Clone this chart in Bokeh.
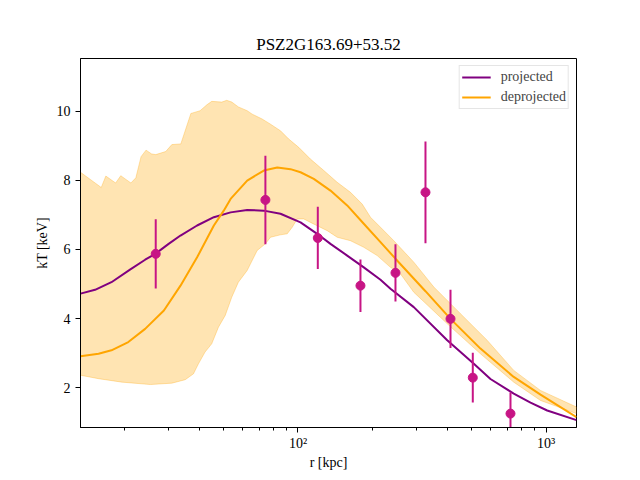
from bokeh.plotting import figure
from bokeh.models import Range1d, FixedTicker
from bokeh.embed import file_html
from bokeh.resources import INLINE

# Temperature profile of PSZ2G163.69+53.52
title = "PSZ2G163.69+53.52"

# measured (projected) spectral temperatures
obs_r = [26.7, 73.9, 120.2, 178.6, 247.2, 326.6, 412, 506.7, 719]
obs_T = [5.87, 7.43, 6.33, 4.95, 5.32, 7.65, 3.99, 2.29, 1.25]
obs_err = [1.0, 1.28, 0.9, 0.76, 0.83, 1.47, 0.84, 0.72, 0.61]

# projected model profile
proj_r = [13.28, 15.2, 17.7, 21.1, 24.2, 26.6, 30.0, 33.6, 39.2, 45.8, 53.5, 62.4,
          72.8, 85.0, 102.4, 119.5, 135.2, 157.9, 184.2, 215.1, 236, 293, 399.6,
          511.6, 597, 741, 866, 1011, 1327]
proj_T = [4.72, 4.83, 5.05, 5.42, 5.70, 5.87, 6.15, 6.40, 6.69, 6.93, 7.07, 7.14,
          7.12, 7.03, 6.78, 6.45, 6.16, 5.82, 5.48, 5.12, 4.86, 4.33, 3.37,
          2.69, 2.25, 1.83, 1.57, 1.34, 1.06]

# deprojected (3D) model profile
deproj_r = [13.28, 15.7, 17.7, 20.7, 24.2, 28.8, 33.6, 39.2, 45.8, 50.2, 53.5, 62.4,
            72.8, 82.5, 93.3, 102.4, 115.8, 135.2, 157.9, 184.2, 215.1, 247.2, 326.6,
            412, 544, 741, 950, 1327]
deproj_T = [2.91, 2.98, 3.08, 3.32, 3.70, 4.23, 4.95, 5.77, 6.69, 7.12, 7.46, 7.99,
            8.28, 8.37, 8.32, 8.23, 8.04, 7.70, 7.27, 6.74, 6.21, 5.73, 4.79,
            3.99, 3.13, 2.31, 1.80, 1.15]

# confidence envelope of the deprojected profile
band_hi_r = [13.28, 16.1, 16.8, 18.4, 19.3, 21.2, 22.2, 23.3, 24.4, 25.7, 26.7, 29.3,
             31.0, 33.7, 37.0, 40.3, 42.9, 44.9, 49.3, 51.6, 54.1, 57.5, 62.4, 65.4,
             71.7, 77.5, 85.0, 91.8, 100.7, 112.3, 127.1, 143.9, 162.8, 181.5, 196,
             215.1, 243.4, 293, 353, 452, 579, 741, 950, 1327]
band_hi_T = [8.23, 7.79, 8.12, 7.92, 8.13, 7.92, 8.07, 8.68, 8.87, 8.76, 8.74, 8.83,
             9.03, 9.05, 9.93, 10.01, 10.18, 10.28, 10.26, 10.31, 10.26, 10.12, 10.01, 9.91,
             9.77, 9.62, 9.43, 9.19, 8.95, 8.61, 8.28, 7.94, 7.65, 7.31, 6.93,
             6.64, 6.25, 5.63, 4.91, 4.14, 3.37, 2.50, 1.92, 1.44]
band_lo_r = [13.28, 15.7, 19.5, 25.4, 31.0, 35.1, 37.9, 39.7, 42.2, 44.9, 47.8, 50.9,
             54.1, 57.5, 62.4, 68.5, 73.9, 77.5, 85.0, 90.5, 94.8, 99.3, 105.5, 112.3,
             131.2, 143.9, 162.8, 184.2, 208.6, 236, 259, 293, 399.6, 544, 741, 950, 1327]
band_lo_T = [2.36, 2.26, 2.16, 2.09, 2.13, 2.23, 2.40, 2.69, 3.03, 3.27, 3.75, 4.09,
             4.62, 5.05, 5.39, 5.97, 6.16, 6.35, 6.42, 6.45, 6.64, 6.88, 6.88, 6.78,
             6.54, 6.35, 6.25, 6.06, 5.82, 5.48, 5.29, 4.76, 3.85, 2.98, 2.16, 1.63, 1.25]

x_ticks = [100, 1000]
x_tick_labels = {100: "10²", 1000: "10³"}
x_minor = [20, 30, 40, 50, 60, 70, 80, 90, 200, 300, 400, 500, 600, 700, 800, 900]
y_ticks = [2, 4, 6, 8, 10]

FONT = "Liberation Serif"

p = figure(width=640, height=480, x_axis_type="log",
           x_range=Range1d(13.28, 1327), y_range=Range1d(0.848, 11.52),
           output_backend="svg", toolbar_location=None,
           min_border_left=80, min_border_right=64,
           min_border_top=58, min_border_bottom=53)

p.title.text = title
p.title.align = "center"
p.title.text_font = FONT
p.title.text_font_size = "17px"
p.title.text_font_style = "normal"
p.title.text_color = "black"

p.grid.visible = False
p.outline_line_color = "black"
p.outline_line_width = 1
p.outline_line_alpha = 1
p.background_fill_color = "white"
p.border_fill_color = "white"

# envelope as a closed polygon: upper edge out, lower edge back
band_x = band_hi_r + band_lo_r[::-1]
band_y = band_hi_T + band_lo_T[::-1]
p.patch(band_x, band_y, fill_color="orange", fill_alpha=0.3,
        line_color="orange", line_alpha=0.3, line_width=1)

p.line(proj_r, proj_T, line_color="purple", line_width=2, legend_label="projected")
p.line(deproj_r, deproj_T, line_color="orange", line_width=2, legend_label="deprojected")

lo = [t - e for t, e in zip(obs_T, obs_err)]
hi = [t + e for t, e in zip(obs_T, obs_err)]
p.segment(x0=obs_r, y0=lo, x1=obs_r, y1=hi, line_color="mediumvioletred", line_width=2)
p.scatter(obs_r, obs_T, size=9, fill_color="mediumvioletred", line_color="mediumvioletred")

for ax in (p.xaxis[0], p.yaxis[0]):
    ax.axis_line_color = "black"
    ax.major_tick_line_color = "black"
    ax.minor_tick_line_color = "black"
    ax.major_tick_in = 0
    ax.major_tick_out = 5
    ax.minor_tick_in = 0
    ax.minor_tick_out = 3
    ax.major_label_text_font = FONT
    ax.major_label_text_font_size = "14px"
    ax.major_label_text_color = "black"
    ax.axis_label_text_font = FONT
    ax.axis_label_text_font_size = "14px"
    ax.axis_label_text_font_style = "normal"
    ax.axis_label_text_color = "black"

p.xaxis.ticker = FixedTicker(ticks=x_ticks, minor_ticks=x_minor)
p.xaxis.major_label_overrides = x_tick_labels
p.xaxis.axis_label = "r [kpc]"
p.xaxis.major_label_standoff = 3
p.xaxis.axis_label_standoff = 1

p.yaxis.ticker = FixedTicker(ticks=y_ticks, minor_ticks=[])
p.yaxis.axis_label = "kT [keV]"
p.yaxis.major_label_standoff = 5
p.yaxis.axis_label_standoff = 4

lg = p.legend[0]
lg.location = "top_right"
lg.margin = 7
lg.padding = 2
lg.spacing = 2
lg.label_height = 18
lg.glyph_height = 18
lg.glyph_width = 29
lg.label_standoff = 10
lg.label_text_font = FONT
lg.label_text_font_size = "14px"
lg.border_line_color = "#cccccc"
lg.border_line_width = 1
lg.background_fill_alpha = 0.8

open("out.html", "w").write(file_html(p, INLINE))
